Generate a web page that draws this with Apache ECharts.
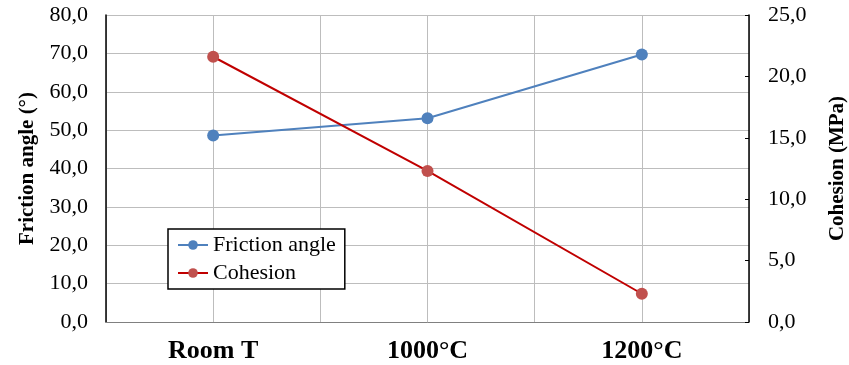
<!DOCTYPE html>
<html><head><meta charset="utf-8">
<script src="https://cdn.jsdelivr.net/npm/echarts@6/dist/echarts.min.js"></script>
<style>html,body{margin:0;padding:0;background:#fff}#c{width:849px;height:365px}</style>
</head><body><div id="c"></div>
<script>
const categories = ['Room T', '1000°C', '1200°C'];
const frictionAngle = [48.6, 53.1, 69.7];
const cohesion = [21.6, 12.3, 2.3];
const leftTicks = {min: 0, max: 80, interval: 10};
const rightTicks = {min: 0, max: 25, interval: 5};

const serif = '"Liberation Serif", "DejaVu Serif", serif';
const fmt = v => v.toFixed(1).replace('.', ',');
const chart = echarts.init(document.getElementById('c'));
chart.setOption({
  animation: false,
  backgroundColor: '#fff',
  grid: {left: 106, right: 100, top: 15, bottom: 43, show: false, containLabel: false, outerBoundsMode: 'none'},
  legend: {
    left: 168, top: 229, orient: 'vertical',
    borderColor: '#000', borderWidth: 1.5, backgroundColor: '#fff',
    padding: [5, 9, 5, 9], itemGap: 6, itemWidth: 30, itemHeight: 12,
    textStyle: {fontFamily: serif, fontSize: 22, color: '#000'},
    data: ['Friction angle', 'Cohesion']
  },
  xAxis: [{
    type: 'category', data: categories, boundaryGap: true,
    axisLine: {lineStyle: {color: '#808080', width: 1}},
    axisTick: {show: false},
    splitLine: {show: true, lineStyle: {color: '#bdbdbd', width: 1}},
    axisLabel: {fontFamily: serif, fontSize: 26, fontWeight: 'bold', color: '#000', margin: 16}
  }, {
    type: 'value', min: 0, max: 6, interval: 1, position: 'bottom',
    axisLine: {show: false}, axisTick: {show: false}, axisLabel: {show: false},
    splitLine: {show: true, lineStyle: {color: '#bdbdbd', width: 1}}
  }],
  yAxis: [{
    type: 'value', min: leftTicks.min, max: leftTicks.max, interval: leftTicks.interval,
    name: 'Friction angle (°)', nameLocation: 'middle', nameGap: 68,
    nameTextStyle: {fontFamily: serif, fontSize: 21, fontWeight: 'bold', color: '#000'},
    axisLine: {show: true, lineStyle: {color: '#000', width: 1.5}},
    axisTick: {show: false},
    splitLine: {show: true, lineStyle: {color: '#bdbdbd', width: 1}},
    axisLabel: {fontFamily: serif, fontSize: 22, color: '#000', margin: 18, formatter: fmt}
  }, {
    type: 'value', min: rightTicks.min, max: rightTicks.max, interval: rightTicks.interval,
    position: 'right',
    name: 'Cohesion (MPa)', nameLocation: 'middle', nameGap: 78, nameRotate: 90,
    nameTextStyle: {fontFamily: serif, fontSize: 21, fontWeight: 'bold', color: '#000'},
    axisLine: {show: true, lineStyle: {color: '#000', width: 1.5}},
    axisTick: {show: true, inside: true, length: 4, lineStyle: {color: '#000'}},
    splitLine: {show: false},
    axisLabel: {fontFamily: serif, fontSize: 22, color: '#000', margin: 19, formatter: fmt}
  }],
  series: [{
    name: 'Friction angle', type: 'line', data: frictionAngle, yAxisIndex: 0, xAxisIndex: 0,
    symbol: 'circle', symbolSize: 12,
    lineStyle: {color: '#4f81bd', width: 2}, itemStyle: {color: '#4f81bd'}
  }, {
    name: 'Cohesion', type: 'line', data: cohesion, yAxisIndex: 1, xAxisIndex: 0,
    symbol: 'circle', symbolSize: 12,
    lineStyle: {color: '#c00000', width: 2}, itemStyle: {color: '#c0504d'}
  }]
});
</script></body></html>
